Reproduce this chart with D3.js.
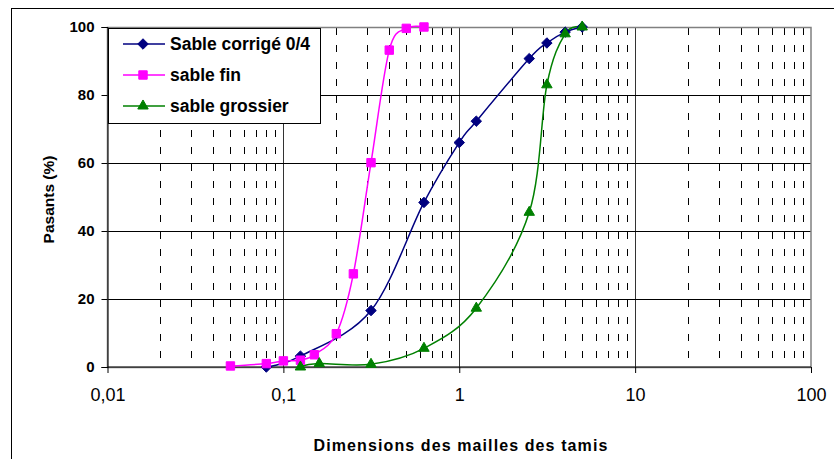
<!DOCTYPE html>
<html>
<head>
<meta charset="utf-8">
<script src="https://cdn.jsdelivr.net/npm/d3@7"></script>
<style>
  html, body { margin: 0; padding: 0; background: #fff; }
  svg { display: block; }
  text { font-family: Arial, "Liberation Sans", sans-serif; fill: #000; }
</style>
</head>
<body>
<svg id="chart" width="834" height="459"></svg>
<script>
// Sieve sizes (mm) and cumulative passing (%) for each sand
const sizesCorrige = [0.08, 0.125, 0.315, 0.63, 1, 1.25, 2.5, 3.15, 4, 5];
const passCorrige  = [0, 3.2, 16.6, 48.4, 66, 72.3, 90.7, 95.3, 98.5, 100];

const sizesFin = [0.05, 0.08, 0.1, 0.125, 0.15, 0.2, 0.25, 0.315, 0.4, 0.5, 0.63];
const passFin  = [0.3, 1.0, 1.8, 2.0, 3.6, 9.8, 27.4, 60.1, 93.2, 99.6, 100];

const sizesGrossier = [0.125, 0.16, 0.315, 0.63, 1.25, 2.5, 3.15, 4, 5];
const passGrossier  = [0, 1, 0.8, 5.5, 17.3, 45.5, 83, 98, 100];

const seriesNames = ["Sable corrigé 0/4", "sable fin", "sable grossier"];
const xTicks = [0.01, 0.1, 1, 10, 100];
const yTicks = [0, 20, 40, 60, 80, 100];
const xTitle = "Dimensions des mailles des tamis";
const yTitle = "Pasants (%)";

const series = [
  { name: seriesNames[0], x: sizesCorrige, y: passCorrige, color: "#000080", marker: d3.symbolDiamond2, size: 70 },
  { name: seriesNames[1], x: sizesFin, y: passFin, color: "#FF00FF", marker: d3.symbolSquare2, size: 90 },
  { name: seriesNames[2], x: sizesGrossier, y: passGrossier, color: "#008000", marker: d3.symbolTriangle2, size: 78 }
];

const svg = d3.select("#chart");
const plotL = 107.5, plotR = 811, plotT = 27, plotB = 367;

const x = d3.scaleLog().domain([0.01, 100]).range([plotL, plotR]);
const y = d3.scaleLinear().domain([0, 100]).range([plotB, plotT]);

// chart frame
svg.append("rect")
  .attr("x", 11.5).attr("y", 8.5).attr("width", 840).attr("height", 470)
  .attr("fill", "#fff").attr("stroke", "#000").attr("stroke-width", 1);

const grid = svg.append("g");

// minor logarithmic grid (dashed)
const minor = [];
for (let e = -2; e <= 1; e++) {
  for (let k = 2; k <= 9; k++) minor.push(k * Math.pow(10, e));
}
grid.selectAll("line.minor").data(minor).join("line")
  .attr("class", "minor")
  .attr("x1", d => Math.round(x(d)) + 0.5).attr("x2", d => Math.round(x(d)) + 0.5)
  .attr("y1", plotT + 1).attr("y2", plotB)
  .attr("stroke", "#000").attr("stroke-width", 1)
  .attr("stroke-dasharray", "7,10");

// major vertical grid
grid.selectAll("line.vmajor").data([0.1, 1, 10]).join("line")
  .attr("x1", d => Math.round(x(d)) + 0.5).attr("x2", d => Math.round(x(d)) + 0.5)
  .attr("y1", plotT).attr("y2", plotB)
  .attr("stroke", "#333").attr("stroke-width", 1);

// major horizontal grid
grid.selectAll("line.hmajor").data([20, 40, 60, 80]).join("line")
  .attr("x1", plotL).attr("x2", plotR)
  .attr("y1", d => Math.round(y(d)) + 0.5).attr("y2", d => Math.round(y(d)) + 0.5)
  .attr("stroke", "#000").attr("stroke-width", 1);

// plot area border
svg.append("rect")
  .attr("x", plotL).attr("y", plotT + 0.5).attr("width", plotR - plotL).attr("height", plotB - plotT)
  .attr("fill", "none").attr("stroke", "#808080").attr("stroke-width", 1.5);

// axes
const yAxis = svg.append("g")
  .attr("transform", `translate(${plotL},0)`)
  .call(d3.axisLeft(y).tickValues(yTicks).tickSize(6).tickPadding(7).tickFormat(d3.format("d")));
yAxis.select(".domain").attr("stroke", "#000");
yAxis.selectAll("text").attr("font-size", 15).attr("font-weight", "bold")
  .attr("font-family", "Arial, 'Liberation Sans', sans-serif");

const commaFmt = d => String(d).replace(".", ",");
const xAxis = svg.append("g")
  .attr("transform", `translate(0,${plotB})`)
  .call(d3.axisBottom(x).tickValues(xTicks).tickSize(6).tickPadding(15).tickFormat(commaFmt));
xAxis.select(".domain").attr("stroke", "#000").attr("d", `M${plotL},0H${plotR}`);
xAxis.selectAll("text").attr("font-size", 18).attr("font-weight", "normal")
  .attr("font-family", "Arial, 'Liberation Sans', sans-serif");

// axis titles
svg.append("text")
  .attr("x", 461).attr("y", 451)
  .attr("text-anchor", "middle")
  .attr("font-size", 16).attr("font-weight", "bold")
  .attr("letter-spacing", 1.1)
  .text(xTitle);

svg.append("text")
  .attr("transform", "translate(53.5,199.5) rotate(-90)")
  .attr("text-anchor", "middle")
  .attr("font-size", 15.5).attr("font-weight", "bold")
  .text(yTitle);

// smoothed curves and markers
const line = d3.line()
  .x(d => x(d[0])).y(d => y(d[1]))
  .curve(d3.curveCardinal.tension(0));

series.forEach(s => {
  const pts = s.x.map((v, j) => [v, s.y[j]]);
  svg.append("path")
    .datum(pts)
    .attr("d", line)
    .attr("fill", "none")
    .attr("stroke", s.color)
    .attr("stroke-width", 1.5);
});

series.forEach(s => {
  const pts = s.x.map((v, j) => [v, s.y[j]]);
  const sym = d3.symbol().type(s.marker).size(s.size);
  svg.append("g").selectAll("path").data(pts).join("path")
    .attr("transform", d => `translate(${x(d[0])},${y(d[1])})`)
    .attr("d", sym)
    .attr("fill", s.color)
    .attr("stroke", s.color)
    .attr("stroke-width", 1);
});

// legend
const legend = svg.append("g");
legend.append("rect")
  .attr("x", 108.5).attr("y", 28.5).attr("width", 212).attr("height", 95)
  .attr("fill", "#fff").attr("stroke", "#000").attr("stroke-width", 1);

const rowY = [44, 75, 106];
series.forEach((s, i) => {
  const g = legend.append("g").attr("transform", `translate(0,${rowY[i]})`);
  g.append("line")
    .attr("x1", 123).attr("x2", 165).attr("y1", 0).attr("y2", 0)
    .attr("stroke", s.color).attr("stroke-width", 1.5);
  g.append("path")
    .attr("transform", "translate(143,0)")
    .attr("d", d3.symbol().type(s.marker).size(s.size))
    .attr("fill", s.color).attr("stroke", s.color);
  g.append("text")
    .attr("x", 170).attr("y", 0).attr("dy", "0.35em")
    .attr("font-size", 17.5).attr("font-weight", "bold")
    .text(s.name);
});
</script>
</body>
</html>
